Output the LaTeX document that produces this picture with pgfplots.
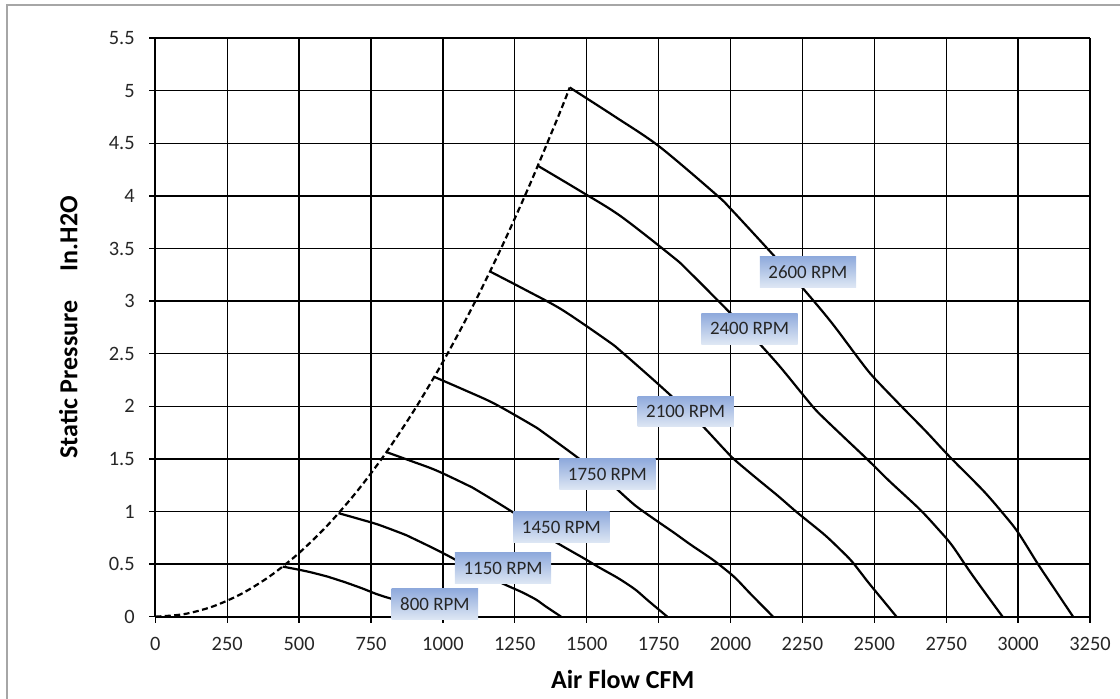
\documentclass[border=0pt]{standalone}
\usepackage{fontspec}
\setmainfont{Carlito}
\usepackage{pgfplots}
\pgfplotsset{compat=1.18}
\definecolor{framegray}{RGB}{166,166,166}
\definecolor{boxtop}{RGB}{143,170,220}
\definecolor{boxbot}{RGB}{222,231,244}
\definecolor{txt}{RGB}{38,38,38}
\tikzset{rpmbox/.style={top color=boxtop, bottom color=boxbot, draw=none, inner xsep=6.5pt, inner ysep=0pt,
  minimum height=23pt, anchor=center, text=txt, font=\fontsize{14.2}{17}\selectfont},
  fan/.style={line width=1.65pt, black, smooth, tension=0.5, mark=none}}
\begin{document}
\begin{tikzpicture}
\begin{axis}[
 at={(0,0)}, anchor=south west,
 scale only axis, width=701pt, height=433.95pt,
 xmin=0, xmax=3250, ymin=0, ymax=5.5,
 xtick={0,250,...,3250}, ytick={0,0.5,...,5.5},
 axis lines=left, axis line style={-, line width=1.5pt, black},
 grid=major, major grid style={line width=1pt, black},
 tick align=outside, major tick length=4.5pt, tick style={line width=1pt, black},
 /pgf/number format/1000 sep={}, /pgf/number format/assume math mode=true,
 ticklabel style={font=\fontsize{15.3}{18}\selectfont, text=txt},
 xticklabel style={yshift=-7.5pt},
 yticklabel style={xshift=-7.5pt},
 xlabel={Air Flow CFM}, ylabel={Static Pressure\hspace{22pt}In.H2O},
 every axis x label/.style={at={([yshift=-53.5pt]axis description cs:0.5,0)}, anchor=base,
   font=\bfseries\fontsize{19.5}{23}\selectfont},
 every axis y label/.style={at={([xshift=-58.5pt]axis description cs:0,0.5)}, rotate=90, anchor=base,
   font=\bfseries\fontsize{19.5}{23}\selectfont},
 clip=false,
]
% system curve (dashed)
\addplot[fan, dash pattern=on 4.5pt off 2.6pt] coordinates {
(0,0) (100,0.024) (200,0.097) (300,0.218) (400,0.388) (500,0.606) (600,0.872) (700,1.187)
(800,1.550) (900,1.962) (1000,2.422) (1100,2.931) (1200,3.488) (1300,4.094) (1400,4.748) (1441,5.03)};
% 2600 RPM
\addplot[fan] coordinates {
(1441,5.03) (1600,4.75) (1752,4.47) (1951,4.01) (2003,3.87) (2148,3.44) (2252,3.12) (2350,2.80)
(2449,2.44) (2496,2.28) (2594,2.00) (2680,1.76) (2762,1.52) (2878,1.20) (2948,0.98) (3000,0.80)
(3069,0.50) (3130,0.25) (3191,0)};
% 2400 RPM
\addplot[fan] coordinates {
(1330,4.286) (1477,4.047) (1617,3.809) (1801,3.417) (1849,3.298) (1983,2.931) (2079,2.659) (2169,2.386)
(2261,2.079) (2304,1.943) (2395,1.704) (2474,1.500) (2550,1.295) (2657,1.023) (2721,0.835) (2769,0.682)
(2833,0.426) (2889,0.213) (2946,0)};
% 2100 RPM
\addplot[fan] coordinates {
(1164,3.281) (1292,3.099) (1415,2.916) (1576,2.616) (1618,2.525) (1735,2.244) (1819,2.035) (1898,1.827)
(1978,1.592) (2016,1.487) (2095,1.305) (2165,1.148) (2231,0.992) (2325,0.783) (2381,0.639) (2423,0.522)
(2479,0.326) (2528,0.163) (2577,0)};
% 1750 RPM
\addplot[fan] coordinates {
(970,2.279) (1077,2.152) (1179,2.025) (1313,1.817) (1348,1.753) (1446,1.558) (1516,1.413) (1582,1.268)
(1648,1.105) (1680,1.033) (1746,0.906) (1804,0.797) (1859,0.689) (1937,0.544) (1984,0.444) (2019,0.362)
(2066,0.227) (2107,0.113) (2148,0)};
% 1450 RPM
\addplot[fan] coordinates {
(804,1.564) (892,1.477) (977,1.390) (1088,1.247) (1117,1.204) (1198,1.070) (1256,0.970) (1311,0.871)
(1366,0.759) (1392,0.709) (1447,0.622) (1495,0.547) (1540,0.473) (1605,0.373) (1644,0.305) (1673,0.249)
(1712,0.156) (1746,0.078) (1780,0)};
% 1150 RPM
\addplot[fan] coordinates {
(637,0.984) (708,0.929) (775,0.875) (863,0.785) (886,0.757) (950,0.673) (996,0.610) (1039,0.548)
(1083,0.477) (1104,0.446) (1147,0.391) (1185,0.344) (1222,0.297) (1273,0.235) (1304,0.192) (1327,0.157)
(1357,0.098) (1384,0.049) (1411,0)};
% 800 RPM
\addplot[fan] coordinates {
(443,0.476) (492,0.450) (539,0.423) (600,0.380) (616,0.366) (661,0.326) (693,0.295) (723,0.265)
(754,0.231) (768,0.216) (798,0.189) (825,0.167) (850,0.144) (886,0.114) (907,0.093) (923,0.076)
(944,0.047) (963,0.024) (982,0)};
\node[rpmbox] at (axis cs:2269,3.277) {2600 RPM};
\node[rpmbox] at (axis cs:2066,2.737) {2400 RPM};
\node[rpmbox] at (axis cs:1844,1.949) {2100 RPM};
\node[rpmbox] at (axis cs:1572,1.354) {1750 RPM};
\node[rpmbox] at (axis cs:1412,0.850) {1450 RPM};
\node[rpmbox] at (axis cs:1209,0.460) {1150 RPM};
\node[rpmbox] at (axis cs:972,0.118) {800 RPM};
\end{axis}
\draw[framegray, line width=1.4pt] (-111.2pt,-80pt) -- (-111.2pt,458.8pt) -- (740pt,458.8pt);
\pgfresetboundingbox
\path[use as bounding box] (-116.5pt,-61.7pt) rectangle (723.5pt,462.5pt);
\end{tikzpicture}
\end{document}
